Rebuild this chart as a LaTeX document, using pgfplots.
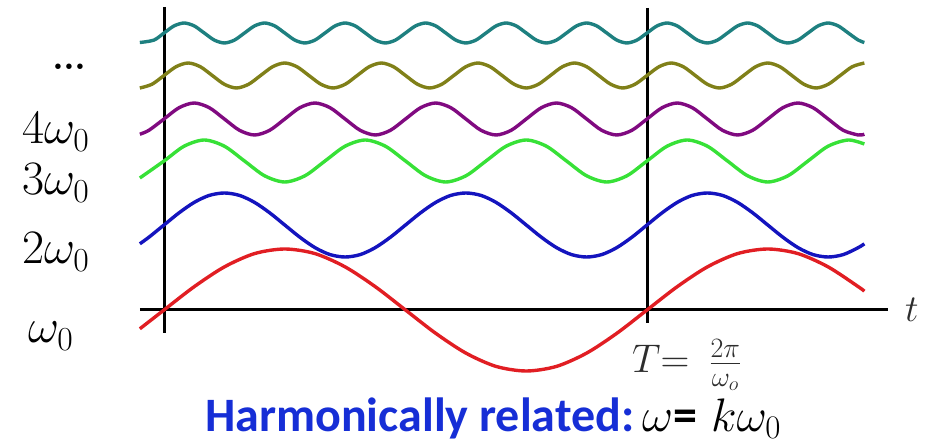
\RequirePackage{fix-cm}
\documentclass[border=0pt]{standalone}
\usepackage{fontspec}
\usepackage{pgfplots}
\pgfplotsset{compat=1.18}
\newfontfamily\carlito{Carlito}
\definecolor{cred}{RGB}{225,30,35}
\definecolor{cblue}{RGB}{20,20,190}
\definecolor{cgreen}{RGB}{55,225,55}
\definecolor{cpurple}{RGB}{128,10,128}
\definecolor{colive}{RGB}{128,128,25}
\definecolor{cteal}{RGB}{30,128,128}
\definecolor{hblue}{RGB}{22,46,214}
\definecolor{tgray}{RGB}{45,45,45}
\begin{document}
\begin{tikzpicture}
\path[use as bounding box] (0,0) rectangle (930bp,443bp);
\begin{axis}[at={(0,0)},anchor=south west,scale only axis,
  width=930bp,height=443bp,
  xmin=-0.339545,xmax=1.585921,ymin=-133,ymax=310,
  hide axis,clip=false]
% axes
\draw[black,line width=3bp] (axis cs:-0.0497,0) -- (axis cs:1.499,0);
\draw[black,line width=3bp] (axis cs:0,303) -- (axis cs:0,-23);
\draw[black,line width=3bp] (axis cs:1,302) -- (axis cs:1,-13);
% k=1
\addplot[cred,line width=3.4bp,smooth] coordinates {
(-0.05,-18.8)(0,0)(0.0625,23.3)(0.125,43.1)(0.1875,56.4)(0.25,61)(0.3125,56.4)(0.375,43.1)(0.4375,23.3)
(0.5,0)(0.5625,-23.3)(0.625,-43.1)(0.6875,-56.4)(0.75,-61)(0.8125,-56.4)(0.875,-43.1)(0.9375,-23.3)
(1,0)(1.0625,23.3)(1.125,43.1)(1.1875,56.4)(1.25,61)(1.3125,56.4)(1.375,43.1)(1.4375,23.3)(1.45,18.8)};
% k=2
\addplot[cblue,line width=3.4bp,smooth] coordinates {
(-0.05,66.2)(-0.03125,72.8)(0,85)(0.03125,97.2)(0.0625,107.6)(0.09375,114.6)(0.125,117)(0.15625,114.6)(0.1875,107.6)(0.21875,97.2)
(0.25,85)(0.28125,72.8)(0.3125,62.4)(0.34375,55.4)(0.375,53)(0.40625,55.4)(0.4375,62.4)(0.46875,72.8)
(0.5,85)(0.53125,97.2)(0.5625,107.6)(0.59375,114.6)(0.625,117)(0.65625,114.6)(0.6875,107.6)(0.71875,97.2)
(0.75,85)(0.78125,72.8)(0.8125,62.4)(0.84375,55.4)(0.875,53)(0.90625,55.4)(0.9375,62.4)(0.96875,72.8)
(1,85)(1.03125,97.2)(1.0625,107.6)(1.09375,114.6)(1.125,117)(1.15625,114.6)(1.1875,107.6)(1.21875,97.2)
(1.25,85)(1.28125,72.8)(1.3125,62.4)(1.34375,55.4)(1.375,53)(1.40625,55.4)(1.4375,62.4)(1.45,66.2)};
% k=3
\addplot[cgreen,line width=3.4bp,smooth] coordinates {
(-0.05,132)(0,149)(0.04167,163.8)(0.08333,170)(0.125,163.8)(0.16667,149)(0.20833,134.2)(0.25,128)(0.29167,134.2)
(0.33333,149)(0.375,163.8)(0.41667,170)(0.45833,163.8)(0.5,149)(0.54167,134.2)(0.58333,128)(0.625,134.2)
(0.66667,149)(0.70833,163.8)(0.75,170)(0.79167,163.8)(0.83333,149)(0.875,134.2)(0.91667,128)(0.95833,134.2)
(1,149)(1.04167,163.8)(1.08333,170)(1.125,163.8)(1.16667,149)(1.20833,134.2)(1.25,128)(1.29167,134.2)
(1.33333,149)(1.375,163.8)(1.41667,170)(1.45,166)};
% k=4
\addplot[cpurple,line width=3.4bp,smooth] coordinates {
(-0.05,175.8)(-0.03125,179.7)(0,191)(0.03125,202.3)(0.0625,207)(0.09375,202.3)(0.125,191)(0.15625,179.7)(0.1875,175)(0.21875,179.7)
(0.25,191)(0.28125,202.3)(0.3125,207)(0.34375,202.3)(0.375,191)(0.40625,179.7)(0.4375,175)(0.46875,179.7)
(0.5,191)(0.53125,202.3)(0.5625,207)(0.59375,202.3)(0.625,191)(0.65625,179.7)(0.6875,175)(0.71875,179.7)
(0.75,191)(0.78125,202.3)(0.8125,207)(0.84375,202.3)(0.875,191)(0.90625,179.7)(0.9375,175)(0.96875,179.7)
(1,191)(1.03125,202.3)(1.0625,207)(1.09375,202.3)(1.125,191)(1.15625,179.7)(1.1875,175)(1.21875,179.7)
(1.25,191)(1.28125,202.3)(1.3125,207)(1.34375,202.3)(1.375,191)(1.40625,179.7)(1.4375,175)(1.45,175.8)};
% k=5
\addplot[colive,line width=3.4bp,smooth] coordinates {
(-0.05,222)(-0.025,225.7)(0,234.5)(0.025,243.3)(0.05,247)(0.075,243.3)(0.1,234.5)(0.125,225.7)(0.15,222)(0.175,225.7)
(0.2,234.5)(0.225,243.3)(0.25,247)(0.275,243.3)(0.3,234.5)(0.325,225.7)(0.35,222)(0.375,225.7)
(0.4,234.5)(0.425,243.3)(0.45,247)(0.475,243.3)(0.5,234.5)(0.525,225.7)(0.55,222)(0.575,225.7)
(0.6,234.5)(0.625,243.3)(0.65,247)(0.675,243.3)(0.7,234.5)(0.725,225.7)(0.75,222)(0.775,225.7)
(0.8,234.5)(0.825,243.3)(0.85,247)(0.875,243.3)(0.9,234.5)(0.925,225.7)(0.95,222)(0.975,225.7)
(1,234.5)(1.025,243.3)(1.05,247)(1.075,243.3)(1.1,234.5)(1.125,225.7)(1.15,222)(1.175,225.7)
(1.2,234.5)(1.225,243.3)(1.25,247)(1.275,243.3)(1.3,234.5)(1.325,225.7)(1.35,222)(1.375,225.7)
(1.4,234.5)(1.425,243.3)(1.45,247)};
% k=6
\addplot[cteal,line width=3.4bp,smooth] coordinates {
(-0.05,267.5)(-0.02083,269.9)(0,277)(0.02083,284.1)(0.04167,287)(0.0625,284.1)(0.08333,277)(0.10417,269.9)(0.125,267)(0.14583,269.9)
(0.16667,277)(0.1875,284.1)(0.20833,287)(0.22917,284.1)(0.25,277)(0.27083,269.9)(0.29167,267)(0.3125,269.9)
(0.33333,277)(0.35417,284.1)(0.375,287)(0.39583,284.1)(0.41667,277)(0.4375,269.9)(0.45833,267)(0.47917,269.9)
(0.5,277)(0.52083,284.1)(0.54167,287)(0.5625,284.1)(0.58333,277)(0.60417,269.9)(0.625,267)(0.64583,269.9)
(0.66667,277)(0.6875,284.1)(0.70833,287)(0.72917,284.1)(0.75,277)(0.77083,269.9)(0.79167,267)(0.8125,269.9)
(0.83333,277)(0.85417,284.1)(0.875,287)(0.89583,284.1)(0.91667,277)(0.9375,269.9)(0.95833,267)(0.97917,269.9)
(1,277)(1.02083,284.1)(1.04167,287)(1.0625,284.1)(1.08333,277)(1.10417,269.9)(1.125,267)(1.14583,269.9)
(1.16667,277)(1.1875,284.1)(1.20833,287)(1.22917,284.1)(1.25,277)(1.27083,269.9)(1.29167,267)(1.3125,269.9)
(1.33333,277)(1.35417,284.1)(1.375,287)(1.39583,284.1)(1.41667,277)(1.4375,269.9)(1.45,267.5)};
% labels
\node[anchor=base west,inner sep=0pt,font=\fontsize{38bp}{38bp}\selectfont\bfseries] at (axis cs:-0.23188,240) {.\kern-1bp.\kern-1bp.};
\node[anchor=base west,inner sep=0pt,font=\fontsize{48bp}{48bp}\selectfont] at (axis cs:-0.294,166) {$4\omega_0$};
\node[anchor=base west,inner sep=0pt,font=\fontsize{48bp}{48bp}\selectfont] at (axis cs:-0.294,115) {$3\omega_0$};
\node[anchor=base west,inner sep=0pt,font=\fontsize{48bp}{48bp}\selectfont] at (axis cs:-0.294,46) {$2\omega_0$};
\node[anchor=base west,inner sep=0pt,font=\fontsize{48bp}{48bp}\selectfont] at (axis cs:-0.28157,-33) {$\omega_0$};
\node[anchor=base west,inner sep=0pt,font=\fontsize{38bp}{38bp}\selectfont,text=tgray] at (axis cs:1.53416,-12) {$t$};
\node[anchor=base west,inner sep=0pt,font=\fontsize{40bp}{40bp}\selectfont,text=tgray] at (axis cs:0.96894,-63) {$T{=}$\hspace{20bp}$\frac{2\pi}{\omega_o}$};
\node[anchor=base west,inner sep=0pt] at (axis cs:0.08489,-121)
  {{\fontsize{48bp}{48bp}\selectfont\carlito\bfseries\color{hblue}Harmonically related:}\hspace{8bp}{\fontsize{48bp}{48bp}\selectfont$\omega$\carlito\bfseries=}\hspace{14bp}{\fontsize{47bp}{47bp}\selectfont$k\omega_0$}};
\end{axis}
\end{tikzpicture}
\end{document}
